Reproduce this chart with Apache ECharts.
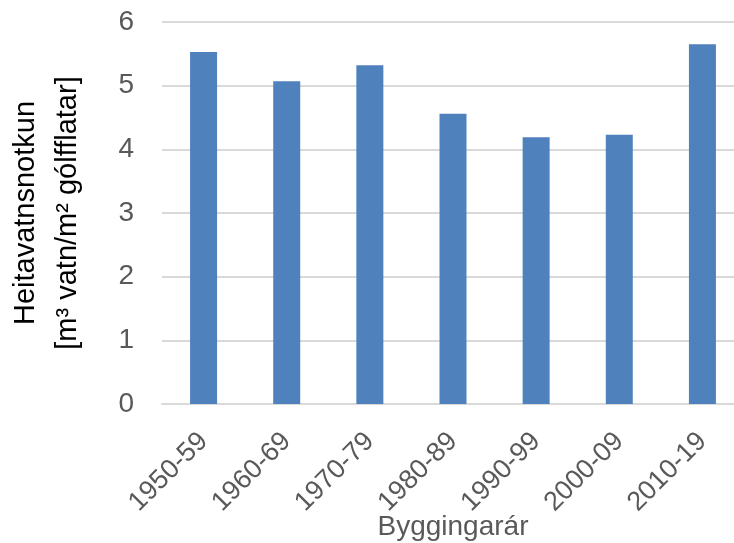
<!DOCTYPE html>
<html>
<head>
<meta charset="utf-8">
<script src="https://cdn.jsdelivr.net/npm/echarts@6/dist/echarts.min.js"></script>
<style>
  html, body { margin: 0; padding: 0; background: #ffffff; }
  #chart { width: 734px; height: 543px; }
</style>
</head>
<body>
<div id="chart"></div>
<script>
// Construction decades and hot water use per floor area
const periods = ['1950-59', '1960-69', '1970-79', '1980-89', '1990-99', '2000-09', '2010-19'];
const hotWaterUse = [5.53, 5.07, 5.32, 4.56, 4.19, 4.23, 5.65];
const yTicks = [0, 1, 2, 3, 4, 5, 6];

const yAxisTitle = 'Heitavatnsnotkun\n[m³ vatn/m² gólfflatar]';
const xAxisTitle = 'Byggingarár';

const FONT = '"Liberation Sans", Arial, sans-serif';
const GREY = '#595959';

const chart = echarts.init(document.getElementById('chart'), null, { renderer: 'canvas' });

chart.setOption({
  animation: false,
  backgroundColor: '#ffffff',
  grid: {
    left: 162, right: -10, top: 22, bottom: 139,
    containLabel: false,
    outerBoundsMode: 'none'
  },
  xAxis: {
    type: 'category',
    data: periods,
    name: xAxisTitle,
    nameLocation: 'middle',
    nameGap: 109,
    nameMoveOverlap: false,
    nameTextStyle: { fontFamily: FONT, fontSize: 28, color: GREY },
    axisLine: { show: true, lineStyle: { color: '#d9d9d9', width: 2 } },
    axisTick: { show: false },
    axisLabel: {
      rotate: 45,
      margin: 33,
      fontFamily: FONT,
      fontSize: 27,
      color: GREY
    }
  },
  yAxis: {
    type: 'value',
    min: yTicks[0],
    max: yTicks[yTicks.length - 1],
    interval: 1,
    name: yAxisTitle,
    nameLocation: 'middle',
    nameRotate: 90,
    nameGap: 73,
    nameMoveOverlap: false,
    nameTextStyle: { fontFamily: FONT, fontSize: 29, color: '#000000', lineHeight: 42 },
    axisLine: { show: false },
    axisTick: { show: false },
    axisLabel: { margin: 28, fontFamily: FONT, fontSize: 28, color: GREY },
    splitLine: { show: true, lineStyle: { color: '#d9d9d9', width: 2 } }
  },
  series: [{
    type: 'bar',
    data: hotWaterUse,
    barWidth: 27,
    itemStyle: { color: '#4f81bd' }
  }]
});
</script>
</body>
</html>
